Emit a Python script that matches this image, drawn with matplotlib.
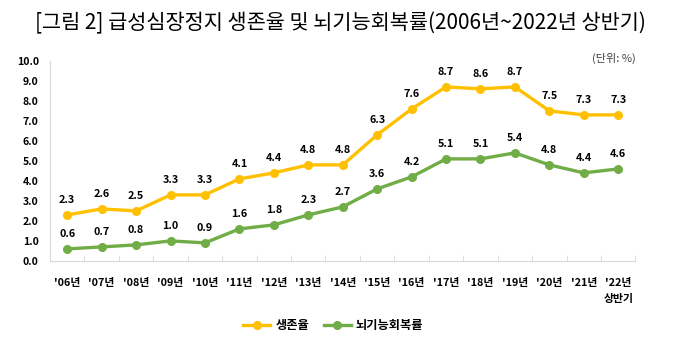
import matplotlib
matplotlib.use("Agg")
import matplotlib.pyplot as plt

plt.rcParams['font.family'] = ['Noto Sans CJK KR', 'DejaVu Sans']

# 데이터
years = ["'06년", "'07년", "'08년", "'09년", "'10년", "'11년", "'12년", "'13년", "'14년",
         "'15년", "'16년", "'17년", "'18년", "'19년", "'20년", "'21년", "'22년\n상반기"]
survival = [2.3, 2.6, 2.5, 3.3, 3.3, 4.1, 4.4, 4.8, 4.8, 6.3, 7.6, 8.7, 8.6, 8.7, 7.5, 7.3, 7.3]
recovery = [0.6, 0.7, 0.8, 1.0, 0.9, 1.6, 1.8, 2.3, 2.7, 3.6, 4.2, 5.1, 5.1, 5.4, 4.8, 4.4, 4.6]
yticks = [0, 1, 2, 3, 4, 5, 6, 7, 8, 9, 10]

fig = plt.figure(figsize=(6.8, 3.54), dpi=100)
ax = fig.add_axes((0.0735, 0.263, 0.861, 0.565))

x = list(range(len(years)))
ax.plot(x, survival, color='#FFC000', lw=2.4, marker='o', ms=5.5, label='생존율')
ax.plot(x, recovery, color='#70AD47', lw=2.4, marker='o', ms=5.5, label='뇌기능회복률')

for i in x:
    ax.annotate(f"{survival[i]:.1f}", (i, survival[i]), xytext=(0, 7), textcoords='offset points',
                ha='center', va='bottom', fontsize=7.8, fontweight='bold')
    ax.annotate(f"{recovery[i]:.1f}", (i, recovery[i]), xytext=(0, 7), textcoords='offset points',
                ha='center', va='bottom', fontsize=7.8, fontweight='bold')

ax.set_xlim(-0.5, len(years) - 0.5)
ax.set_ylim(0, 10)
ax.set_yticks(yticks)
ax.set_yticklabels([f"{v:.1f}" for v in yticks], fontsize=7.6, fontweight='bold')
ax.set_xticks(x)
ax.set_xticklabels(years, fontsize=7.8, fontweight='bold', va='top', linespacing=1.8)
ax.tick_params(axis='x', length=0, pad=12)
ax.tick_params(axis='y', length=0, pad=8)
# 카테고리 경계 눈금
ax.set_xticks([i + 0.5 for i in x], minor=True)
ax.tick_params(axis='x', which='minor', length=4, color='#d9d9d9', direction='in')
for t in ax.get_xticklabels(minor=True):
    t.set_visible(False)

for s in ['top', 'right']:
    ax.spines[s].set_visible(False)
ax.spines['left'].set_color('#d9d9d9')
ax.spines['bottom'].set_color('#d9d9d9')

fig.text(0.5, 0.935, '[그림 2] 급성심장정지 생존율 및 뇌기능회복률(2006년~2022년 상반기)',
         ha='center', va='center', fontsize=15)
fig.text(0.935, 0.835, '(단위: %)', ha='right', va='center', fontsize=8, color='#404040')

fig.legend(loc='center', bbox_to_anchor=(0.49, 0.08), ncol=2, frameon=False,
           prop={'size': 8.8, 'weight': 'bold'}, handlelength=2.2, columnspacing=1.2,
           handletextpad=0.4)

fig.savefig('out.png', dpi=100)
